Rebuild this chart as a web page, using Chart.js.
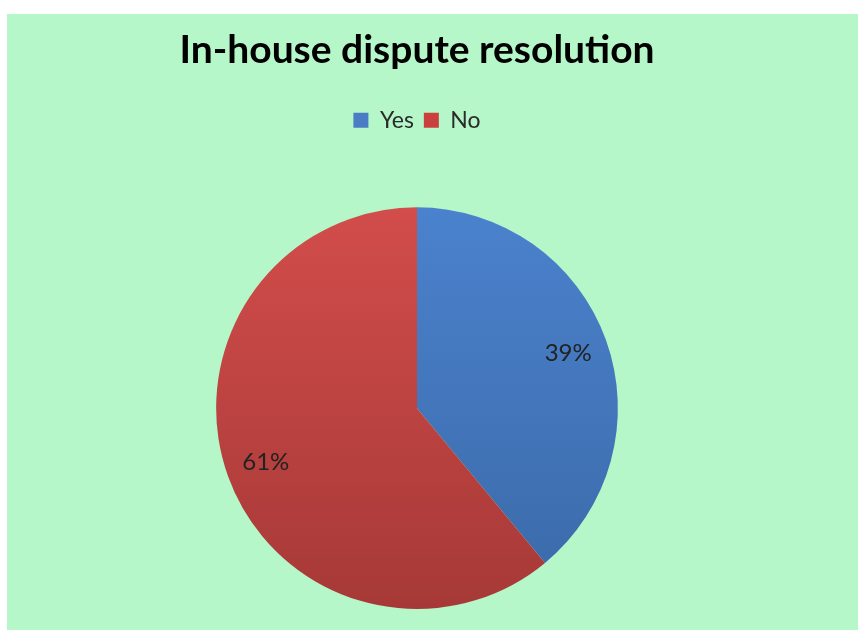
<!DOCTYPE html>
<html>
<head>
<meta charset="utf-8">
<script src="https://cdn.jsdelivr.net/npm/chart.js@4.4.1/dist/chart.umd.min.js"></script>
<style>
  html, body { margin: 0; padding: 0; background: #ffffff; }
  #wrap { position: absolute; left: 7px; top: 14px; width: 851px; height: 616px; background: #b5f7c8; }
  canvas { display: block; }
</style>
</head>
<body>
<div id="wrap"><canvas id="c" width="851" height="616"></canvas></div>
<script>
const chartTitle = "In-house dispute resolution";
const categories = ["Yes", "No"];
const values = [39, 61];
const topColors = ["#4b82cd", "#d24d4b"];
const bottomColors = ["#3a69a8", "#a63937"];
const legendColors = ["#4a7ec4", "#c9403e"];

const legendSpacer = {
  id: 'legendSpacer',
  beforeInit(chart) {
    const orig = chart.legend.fit;
    chart.legend.fit = function () {
      orig.call(this);
      this.height += 65.5;
    };
  }
};

const sliceLabels = {
  id: 'sliceLabels',
  afterDatasetsDraw(chart) {
    const ctx = chart.ctx;
    const meta = chart.getDatasetMeta(0);
    ctx.save();
    ctx.font = '24px Lato';
    ctx.fillStyle = '#222222';
    ctx.textAlign = 'center';
    ctx.textBaseline = 'middle';
    meta.data.forEach((arc, i) => {
      const p = arc.getProps(['x', 'y', 'startAngle', 'endAngle', 'outerRadius'], true);
      const mid = (p.startAngle + p.endAngle) / 2;
      const r = p.outerRadius * 0.8;
      ctx.fillText(values[i] + '%', p.x + Math.cos(mid) * r, p.y + Math.sin(mid) * r);
    });
    ctx.restore();
  }
};

function grad(ctx) {
  const chart = ctx.chart;
  const area = chart.chartArea;
  if (!area) return topColors[ctx.dataIndex];
  const g = chart.ctx.createLinearGradient(0, area.top, 0, area.bottom);
  g.addColorStop(0, topColors[ctx.dataIndex]);
  g.addColorStop(1, bottomColors[ctx.dataIndex]);
  return g;
}

new Chart(document.getElementById('c'), {
  type: 'pie',
  data: {
    labels: categories,
    datasets: [{ data: values, backgroundColor: grad, borderWidth: 0, hoverOffset: 0 }]
  },
  options: {
    responsive: false,
    animation: false,
    events: [],
    layout: { padding: { left: 0, right: 31, top: 0, bottom: 21 } },
    plugins: {
      title: {
        display: true,
        text: chartTitle,
        color: '#000000',
        font: { family: 'Lato', size: 39, weight: 'bold' },
        padding: { top: 13, bottom: 25 }
      },
      legend: {
        display: true,
        position: 'top',
        labels: {
          color: '#2a2a2a',
          font: { family: 'Lato', size: 23 },
          boxWidth: 15,
          boxHeight: 15,
          padding: 10,
          generateLabels(chart) {
            return categories.map((c, i) => ({
              text: c,
              fillStyle: legendColors[i],
              strokeStyle: legendColors[i],
              lineWidth: 0,
              hidden: false,
              index: i,
              fontColor: '#2a2a2a'
            }));
          }
        }
      },
      tooltip: { enabled: false }
    }
  },
  plugins: [legendSpacer, sliceLabels]
});
</script>
</body>
</html>
